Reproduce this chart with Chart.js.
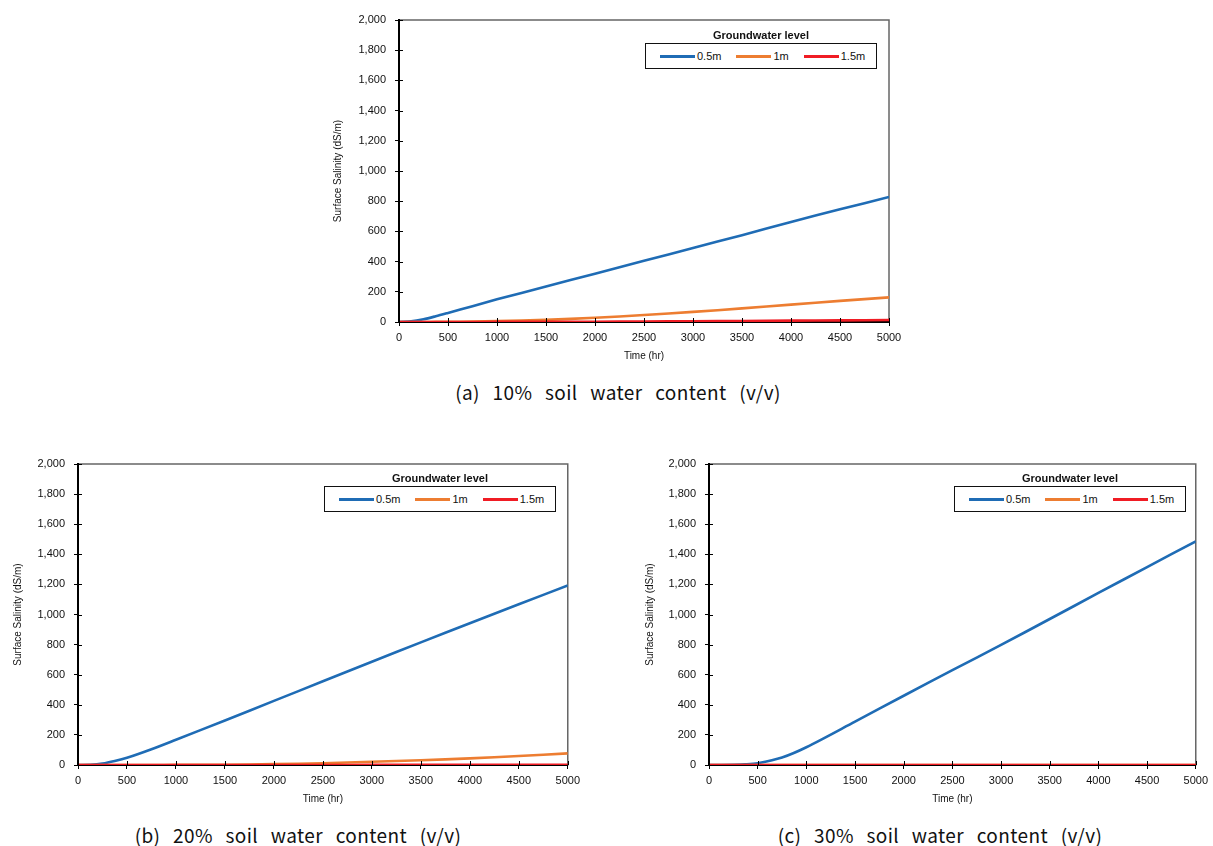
<!DOCTYPE html>
<html>
<head>
<meta charset="utf-8">
<script src="https://cdn.jsdelivr.net/npm/chart.js@4/dist/chart.umd.min.js"></script>
<style>
    body { margin: 0; background: #fff; width: 1213px; height: 846px; position: relative; overflow: hidden; font-family: "Liberation Sans", Arial, sans-serif; }
    canvas { position: absolute; }
    .caption { position: absolute; width: 400px; text-align: center; font-family: "Noto Sans CJK KR", sans-serif; font-size: 19px; letter-spacing: 0.4px; word-spacing: 8px; color: #111; line-height: 22px; }
    .lg-title { position: absolute; width: 232px; text-align: center; font-size: 11px; font-weight: bold; color: #111; line-height: 13px; }
    .lg-box { position: absolute; width: 232px; height: 26px; box-sizing: border-box; border: 1px solid #111; background: #fff; display: flex; align-items: center; padding-left: 14px; font-size: 11px; color: #111; }
    .lg-item { display: flex; align-items: center; margin-right: 15px; }
    .lg-line { width: 35px; height: 3px; margin-right: 2px; }
</style>
</head>
<body>
<canvas id="chartA" width="586" height="366" style="left:328px; top:0px;"></canvas>
<canvas id="chartB" width="577" height="365" style="left:8px; top:444px;"></canvas>
<canvas id="chartC" width="573" height="365" style="left:640px; top:444px;"></canvas>
<div class="caption" style="left:418px; top:381px;">(a) 10% soil water content (v/v)</div>
<div class="caption" style="left:98px; top:824px;">(b) 20% soil water content (v/v)</div>
<div class="caption" style="left:740px; top:824px;">(c) 30% soil water content (v/v)</div>
<div id="legendA"></div>
<div id="legendB"></div>
<div id="legendC"></div>
<script>
// time axis samples (hr)
const timeHr = [0, 125, 250, 375, 500, 750, 1000, 1500, 2000, 2500, 3000, 3500, 4000, 4500, 5000];
const xTickValues = [0, 500, 1000, 1500, 2000, 2500, 3000, 3500, 4000, 4500, 5000];
const yTickValues = [0, 200, 400, 600, 800, 1000, 1200, 1400, 1600, 1800, 2000];

const levelNames = ['0.5m', '1m', '1.5m'];
const levelColors = ['#1f6cb5', '#ed7d31', '#f01c24'];

// (a) 10% soil water content
const swc10_gw05 = [0, 4, 18, 38, 60, 105, 150, 235, 320, 405, 490, 575, 663, 746, 828];
const swc10_gw1  = [0, 0, 0, 0.5, 1, 3, 6, 14, 28, 46, 67, 90, 115, 140, 163];
const swc10_gw15 = [0, 0, 0, 0, 0, 0, 0.5, 1, 2, 3, 5, 7, 9, 11, 13];

// (b) 20% soil water content
const swc20_gw05 = [0, 1, 9, 26, 48, 105, 168, 296, 426, 556, 686, 815, 942, 1068, 1193];
const swc20_gw1  = [0, 0, 0, 0, 0, 0, 0.5, 2, 6, 12, 22, 32, 44, 60, 77];
const swc20_gw15 = [0, 0, 0, 0, 0, 0, 0, 0, 0, 0, 0.5, 0.5, 1, 1, 1];

// (c) 30% soil water content
const swc30_gw05 = [0, 0, 1, 4, 12, 50, 118, 288, 460, 630, 798, 970, 1143, 1315, 1486];
const swc30_gw1  = [0, 0, 0, 0, 0, 0, 0, 0, 0, 0, 0, 0, 0, 0, 0];
const swc30_gw15 = [0, 0, 0, 0, 0, 0, 0, 0, 0, 0, 0, 0, 0, 0, 0];

const tickFont = {family: '"Liberation Sans", Arial, sans-serif', size: 11};
const titleFont = {family: '"Liberation Sans", Arial, sans-serif', size: 10};

// gray frame on top/right of plot, left/bottom axes drawn over it
const framePlugin = {
    id: 'frame',
    beforeDraw(chart) {
        const {ctx, chartArea} = chart;
        ctx.save();
        ctx.strokeStyle = '#666';
        ctx.lineWidth = 1.5;
        ctx.strokeRect(chartArea.left, chartArea.top, chartArea.right - chartArea.left, chartArea.bottom - chartArea.top);
        ctx.restore();
    }
};

// excel style "cross" tick marks: inner half of each tick
const crossTickPlugin = {
    id: 'crossTicks',
    afterDraw(chart) {
        const {ctx, chartArea, scales} = chart;
        ctx.save();
        ctx.strokeStyle = '#000';
        ctx.lineWidth = 1;
        ctx.beginPath();
        scales.x.ticks.forEach((t) => {
            const px = Math.round(scales.x.getPixelForValue(t.value)) + 0.5;
            ctx.moveTo(px, chartArea.bottom);
            ctx.lineTo(px, chartArea.bottom - 4);
        });
        scales.y.ticks.forEach((t) => {
            const py = Math.round(scales.y.getPixelForValue(t.value)) + 0.5;
            ctx.moveTo(chartArea.left, py);
            ctx.lineTo(chartArea.left + 4, py);
        });
        ctx.stroke();
        ctx.restore();
    }
};

function toPoints(values) {
    return timeHr.map((t, i) => ({x: t, y: values[i]}));
}

function buildChart(canvasId, seriesList, yAxisWidth, rightPad) {
    const ctx = document.getElementById(canvasId);
    const datasets = seriesList.map((values, idx) => ({
        label: levelNames[idx],
        data: toPoints(values),
        borderColor: levelColors[idx],
        backgroundColor: levelColors[idx],
        borderWidth: 2.6,
        pointRadius: 0,
        tension: 0.3,
        order: seriesList.length - idx
    }));
    return new Chart(ctx, {
        type: 'line',
        data: {datasets: datasets},
        options: {
            responsive: false,
            animation: false,
            layout: {padding: {top: 20, right: rightPad, left: 0, bottom: 0}},
            plugins: {
                legend: {display: false},
                tooltip: {enabled: false}
            },
            scales: {
                x: {
                    type: 'linear',
                    min: 0,
                    max: 5000,
                    afterBuildTicks: (scale) => { scale.ticks = xTickValues.map(v => ({value: v})); },
                    afterFit: (scale) => { scale.height = 44; },
                    ticks: {font: tickFont, color: '#111', padding: 5, maxRotation: 0, autoSkip: false,
                        callback: (v) => String(v)},
                    grid: {drawOnChartArea: false, tickLength: 4, color: '#000', tickWidth: 1},
                    border: {color: '#000', width: 2},
                    title: {display: true, text: 'Time (hr)', font: titleFont, color: '#111', padding: {top: 2, bottom: 4}}
                },
                y: {
                    min: 0,
                    max: 2000,
                    afterBuildTicks: (scale) => { scale.ticks = yTickValues.map(v => ({value: v})); },
                    afterFit: (scale) => { scale.width = yAxisWidth; },
                    ticks: {font: tickFont, color: '#111', padding: 9, autoSkip: false,
                        callback: (v) => v.toLocaleString('en-US')},
                    grid: {drawOnChartArea: false, tickLength: 4, color: '#000', tickWidth: 1},
                    border: {color: '#000', width: 2},
                    title: {display: true, text: 'Surface Salinity (dS/m)', font: titleFont, color: '#111', padding: {top: 4, bottom: 2}}
                }
            }
        },
        plugins: [framePlugin, crossTickPlugin]
    });
}

function buildLegend(holderId, boxLeft, boxTop) {
    const holder = document.getElementById(holderId);
    const title = document.createElement('div');
    title.className = 'lg-title';
    title.textContent = 'Groundwater level';
    title.style.left = boxLeft + 'px';
    title.style.top = (boxTop - 14) + 'px';
    holder.appendChild(title);

    const box = document.createElement('div');
    box.className = 'lg-box';
    box.style.left = boxLeft + 'px';
    box.style.top = boxTop + 'px';
    levelNames.forEach((name, idx) => {
        const item = document.createElement('div');
        item.className = 'lg-item';
        const line = document.createElement('div');
        line.className = 'lg-line';
        line.style.background = levelColors[idx];
        const label = document.createElement('span');
        label.textContent = name;
        item.appendChild(line);
        item.appendChild(label);
        box.appendChild(item);
    });
    holder.appendChild(box);
}

function main() {
    buildChart('chartA', [swc10_gw05, swc10_gw1, swc10_gw15], 71, 25);
    buildChart('chartB', [swc20_gw05, swc20_gw1, swc20_gw15], 70, 17);
    buildChart('chartC', [swc30_gw05, swc30_gw1, swc30_gw15], 69, 15);
    buildLegend('legendA', 645, 43);
    buildLegend('legendB', 324, 486);
    buildLegend('legendC', 954, 486);
}

main()
</script>
</body>
</html>
